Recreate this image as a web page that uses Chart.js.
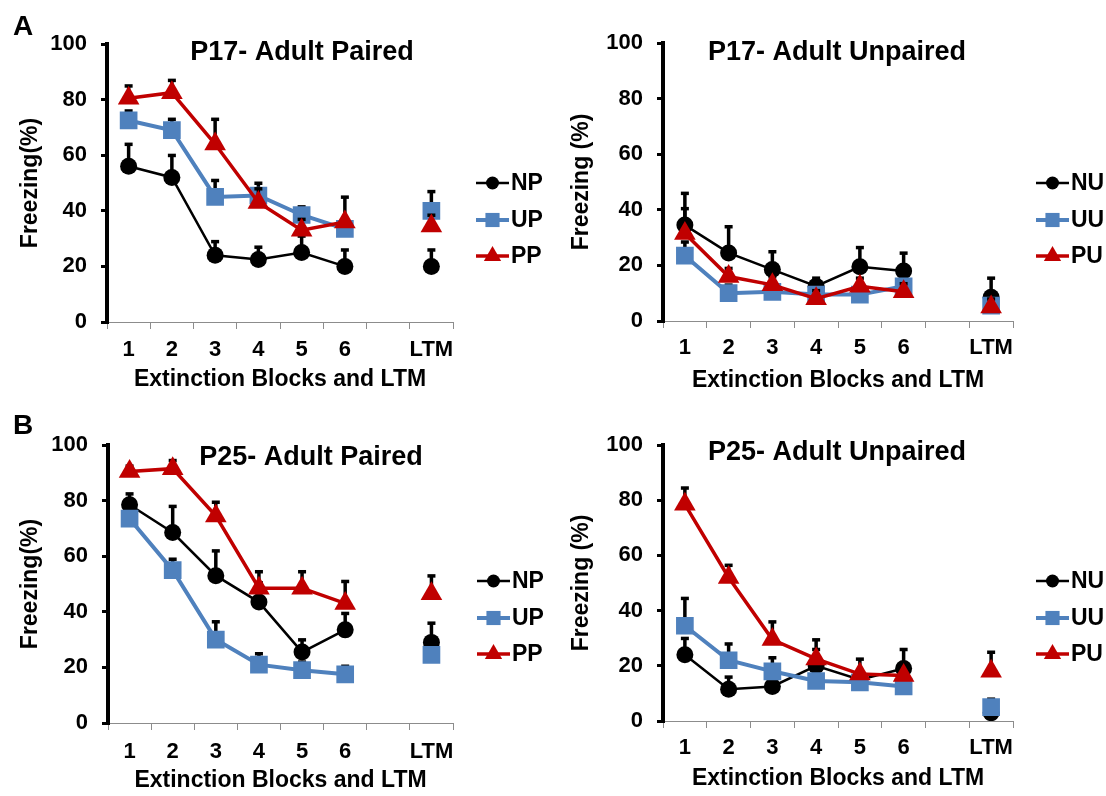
<!DOCTYPE html>
<html>
<head>
<meta charset="utf-8">
<title>Extinction Blocks and LTM</title>
<script src="https://cdn.jsdelivr.net/npm/chart.js@4.4.1/dist/chart.umd.min.js"></script>
<style>
  html, body { margin: 0; padding: 0; background: #fff; }
  body { width: 1106px; height: 796px; position: relative; overflow: hidden; }
  canvas.panel { position: absolute; width: 553px; height: 398px; }
</style>
</head>
<body>
<canvas class="panel" id="p17paired" width="553" height="398" style="left:0;top:0"></canvas>
<canvas class="panel" id="p17unpaired" width="553" height="398" style="left:553px;top:0"></canvas>
<canvas class="panel" id="p25paired" width="553" height="398" style="left:0;top:398px"></canvas>
<canvas class="panel" id="p25unpaired" width="553" height="398" style="left:553px;top:398px"></canvas>
<script>
// Categories: six extinction blocks, an empty slot, then the LTM test
const blocks = ['1', '2', '3', '4', '5', '6', '', 'LTM'];
const yTicks = [0, 20, 40, 60, 80, 100];

// P17 - Adult Paired (mean freezing % and upper SEM)
const p17PairedNP    = [56, 52, 24, 22.5, 25, 20, null, 20];
const p17PairedNPErr = [8, 8, 5, 4.5, 6, 6, null, 6];
const p17PairedUP    = [72.5, 69, 45, 45.5, 38.5, 33.5, null, 40];
const p17PairedUPErr = [3.5, 4, 6, 4.5, 3, 3, null, 7];
const p17PairedPP    = [80.5, 82.5, 64, 43, 33, 36, null, 34.5];
const p17PairedPPErr = [4.5, 4.5, 9, 5, 4, 9, null, 4];

// P17 - Adult Unpaired
const p17UnpairedNU    = [34.5, 24.5, 18.5, 12.5, 19.5, 18, null, 8.5];
const p17UnpairedNUErr = [11.5, 9.5, 6.5, 3, 7, 6.5, null, 7];
const p17UnpairedUU    = [23.5, 10, 10.5, 9.5, 9.5, 12.5, null, 5.5];
const p17UnpairedUUErr = [5, 3, 3, 3, 3, 3, null, 3];
const p17UnpairedPU    = [31.5, 16, 13, 8, 12.5, 10.5, null, 5];
const p17UnpairedPUErr = [9, 3, 3, 3, 3, 3, null, 3];

// P25 - Adult Paired
const p25PairedNP    = [78.5, 68.5, 53, 43.5, 25.5, 33.5, null, 29];
const p25PairedNPErr = [4, 9.5, 9, 7, 4.5, 6, null, 7];
const p25PairedUP    = [73.5, 55, 30, 21, 19, 17.5, null, 24.5];
const p25PairedUPErr = [3, 4, 6.5, 4, 3, 3, null, 3];
const p25PairedPP    = [90.5, 91.5, 74.5, 48.5, 48.5, 43, null, 46.5];
const p25PairedPPErr = [2, 3, 5, 6, 6, 8, null, 6.5];

// P25 - Adult Unpaired
const p25UnpairedNU    = [24, 11.5, 12.5, 20, 15, 19, null, 3];
const p25UnpairedNUErr = [6, 4.5, 4, 6, 3, 7, null, 3];
const p25UnpairedUU    = [34.5, 22, 18, 14.5, 14, 12.5, null, 5];
const p25UnpairedUUErr = [10, 6, 5, 3, 3, 3, null, 3];
const p25UnpairedPU    = [78.5, 52, 29.5, 22.5, 17, 16.5, null, 18];
const p25UnpairedPUErr = [6, 4.5, 6.5, 7, 5.5, 4, null, 7];

const FONT = '"Liberation Sans", Arial, Helvetica, sans-serif';
Chart.defaults.color = '#000';
Chart.defaults.font.family = FONT;

const BLACK = '#000000';
const BLUE = '#4f81bd';
const RED = '#c00000';

// Marker path helper used by the legend
function markerPath(ctx, style, r, x, y) {
  ctx.beginPath();
  if (style === 'circle') {
    ctx.arc(x, y, r, 0, Math.PI * 2);
  } else if (style === 'rect') {
    const s = r * Math.SQRT1_2;
    ctx.rect(x - s, y - s, 2 * s, 2 * s);
  } else if (style === 'triangle') {
    const h = r * Math.sqrt(3) / 2;
    ctx.moveTo(x, y - r);
    ctx.lineTo(x + h, y + r / 2);
    ctx.lineTo(x - h, y + r / 2);
    ctx.closePath();
  }
}

// Upward SEM bars, drawn just before each series so later series cover them
const errorBars = {
  id: 'errorBars',
  beforeDatasetDraw(chart, args) {
    const ds = chart.data.datasets[args.index];
    const err = ds.errorUp;
    if (!err) return;
    const yScale = chart.scales.y;
    const ctx = chart.ctx;
    ctx.save();
    ctx.strokeStyle = BLACK;
    ctx.fillStyle = BLACK;
    ctx.lineWidth = 3.5;
    args.meta.data.forEach((pt, i) => {
      const v = ds.data[i];
      if (v == null || err[i] == null) return;
      const top = yScale.getPixelForValue(v + err[i]);
      ctx.beginPath();
      ctx.moveTo(pt.x, pt.y);
      ctx.lineTo(pt.x, top);
      ctx.stroke();
      ctx.fillRect(pt.x - 4, top - 1.5, 8, 3.5);
    });
    ctx.restore();
  }
};

// Legend with a line segment through each marker, as in the series
const lineLegend = {
  id: 'lineLegend',
  afterDraw(chart, args, opts) {
    const ctx = chart.ctx;
    ctx.save();
    chart.data.datasets.forEach((ds, i) => {
      const y = opts.ys[i];
      ctx.strokeStyle = ds.borderColor;
      ctx.lineWidth = ds.borderWidth;
      ctx.beginPath();
      ctx.moveTo(opts.x0, y);
      ctx.lineTo(opts.x1, y);
      ctx.stroke();
      ctx.fillStyle = ds.pointBackgroundColor;
      markerPath(ctx, ds.pointStyle, ds.legendRadius, (opts.x0 + opts.x1) / 2, y);
      ctx.fill();
      ctx.fillStyle = BLACK;
      ctx.font = 'bold 23px ' + FONT;
      ctx.textAlign = 'left';
      ctx.textBaseline = 'middle';
      ctx.fillText(ds.label, opts.x1 + 2, y + 1);
    });
    ctx.restore();
  }
};

// Panel heading and panel letter
const panelText = {
  id: 'panelText',
  afterDraw(chart, args, opts) {
    const ctx = chart.ctx;
    ctx.save();
    ctx.fillStyle = BLACK;
    ctx.textBaseline = 'middle';
    ctx.textAlign = 'center';
    (opts.items || []).forEach(it => {
      ctx.font = it.font;
      ctx.fillText(it.text, it.x, it.y);
    });
    ctx.restore();
  }
};

function series(label, data, err, color, style, width, radius, legendRadius) {
  return {
    label: label,
    data: data,
    errorUp: err,
    borderColor: color,
    backgroundColor: color,
    borderWidth: width,
    pointStyle: style,
    pointRadius: radius,
    pointHoverRadius: radius,
    pointBackgroundColor: color,
    pointBorderColor: color,
    pointBorderWidth: 0,
    legendRadius: legendRadius,
    spanGaps: false,
    tension: 0
  };
}

function makePanel(id, sets, layout) {
  const datasets = [
    Object.assign(series(sets[0][0], sets[0][1], sets[0][2], BLACK, 'circle', 2.5, 8.5, 6.5), { order: 3 }),
    Object.assign(series(sets[1][0], sets[1][1], sets[1][2], BLUE, 'rect', 4, 12.5, 10), { order: 2 }),
    Object.assign(series(sets[2][0], sets[2][1], sets[2][2], RED, 'triangle', 3.5, 12.5, 10), { order: 1 })
  ];
  const texts = [{ text: layout.title, x: layout.titleX, y: layout.titleY, font: 'bold 27px ' + FONT }];
  if (layout.letter) {
    texts.push({ text: layout.letter, x: 23, y: layout.letterY, font: 'bold 28px ' + FONT });
  }
  return new Chart(document.getElementById(id), {
    type: 'line',
    data: { labels: blocks, datasets: datasets },
    plugins: [errorBars, lineLegend, panelText],
    options: {
      responsive: false,
      animation: false,
      devicePixelRatio: 1,
      events: [],
      layout: {
        autoPadding: false,
        padding: { left: 0, top: layout.top, right: layout.right, bottom: 0 }
      },
      plugins: {
        legend: { display: false },
        tooltip: { enabled: false },
        title: { display: false },
        lineLegend: { x0: layout.legX, x1: layout.legX + 33, ys: [183, 220, 256] },
        panelText: { items: texts }
      },
      scales: {
        x: {
          type: 'category',
          offset: true,
          grid: {
            display: true, offset: true, drawOnChartArea: false, drawTicks: true,
            tickLength: 7, color: '#8c8c8c', lineWidth: 1
          },
          border: { display: true, color: '#8c8c8c', width: 1 },
          ticks: {
            autoSkip: false, maxRotation: 0, padding: layout.xTickPad, color: BLACK,
            font: { family: FONT, size: 22, weight: 'bold' }
          },
          title: {
            display: true, text: 'Extinction Blocks and LTM', color: BLACK,
            font: { family: FONT, size: 23, weight: 'bold' },
            padding: { top: 0, bottom: layout.xTitlePad }
          },
          afterFit(s) { s.height = layout.xHeight; }
        },
        y: {
          min: 0, max: 100,
          afterBuildTicks(s) { s.ticks = yTicks.map(v => ({ value: v })); },
          grid: {
            display: true, drawOnChartArea: false, drawTicks: true,
            tickLength: 6, color: BLACK, lineWidth: 3
          },
          border: { display: true, color: BLACK, width: 4 },
          ticks: {
            padding: 14, color: BLACK,
            font: { family: FONT, size: 22, weight: 'bold' }
          },
          title: {
            display: true, text: layout.yTitle, color: BLACK,
            font: { family: FONT, size: 23, weight: 'bold' },
            padding: { top: layout.yTitlePad, bottom: 0 }
          },
          afterFit(s) { s.width = layout.yWidth; }
        }
      }
    }
  });
}

makePanel('p17paired', [
  ['NP', p17PairedNP, p17PairedNPErr],
  ['UP', p17PairedUP, p17PairedUPErr],
  ['PP', p17PairedPP, p17PairedPPErr]
], {
  title: 'P17- Adult Paired', titleX: 302, titleY: 53, letter: 'A', letterY: 27,
  top: 44, right: 100, yWidth: 107, xHeight: 76, xTickPad: 8, xTitlePad: 5,
  yTitle: 'Freezing(%)', yTitlePad: 17, legX: 476
});

makePanel('p17unpaired', [
  ['NU', p17UnpairedNU, p17UnpairedNUErr],
  ['UU', p17UnpairedUU, p17UnpairedUUErr],
  ['PU', p17UnpairedPU, p17UnpairedPUErr]
], {
  title: 'P17- Adult Unpaired', titleX: 284, titleY: 53,
  top: 43, right: 93, yWidth: 110, xHeight: 77, xTickPad: 7, xTitlePad: 4,
  yTitle: 'Freezing (%)', yTitlePad: 15, legX: 483
});

makePanel('p25paired', [
  ['NP', p25PairedNP, p25PairedNPErr],
  ['UP', p25PairedUP, p25PairedUPErr],
  ['PP', p25PairedPP, p25PairedPPErr]
], {
  title: 'P25- Adult Paired', titleX: 311, titleY: 60, letter: 'B', letterY: 28,
  top: 47, right: 100, yWidth: 108, xHeight: 73, xTickPad: 9, xTitlePad: 2,
  yTitle: 'Freezing(%)', yTitlePad: 17, legX: 477
});

makePanel('p25unpaired', [
  ['NU', p25UnpairedNU, p25UnpairedNUErr],
  ['UU', p25UnpairedUU, p25UnpairedUUErr],
  ['PU', p25UnpairedPU, p25UnpairedPUErr]
], {
  title: 'P25- Adult Unpaired', titleX: 284, titleY: 55,
  top: 47, right: 93, yWidth: 110, xHeight: 75, xTickPad: 7, xTitlePad: 4,
  yTitle: 'Freezing (%)', yTitlePad: 15, legX: 483
});
</script>
</body>
</html>
